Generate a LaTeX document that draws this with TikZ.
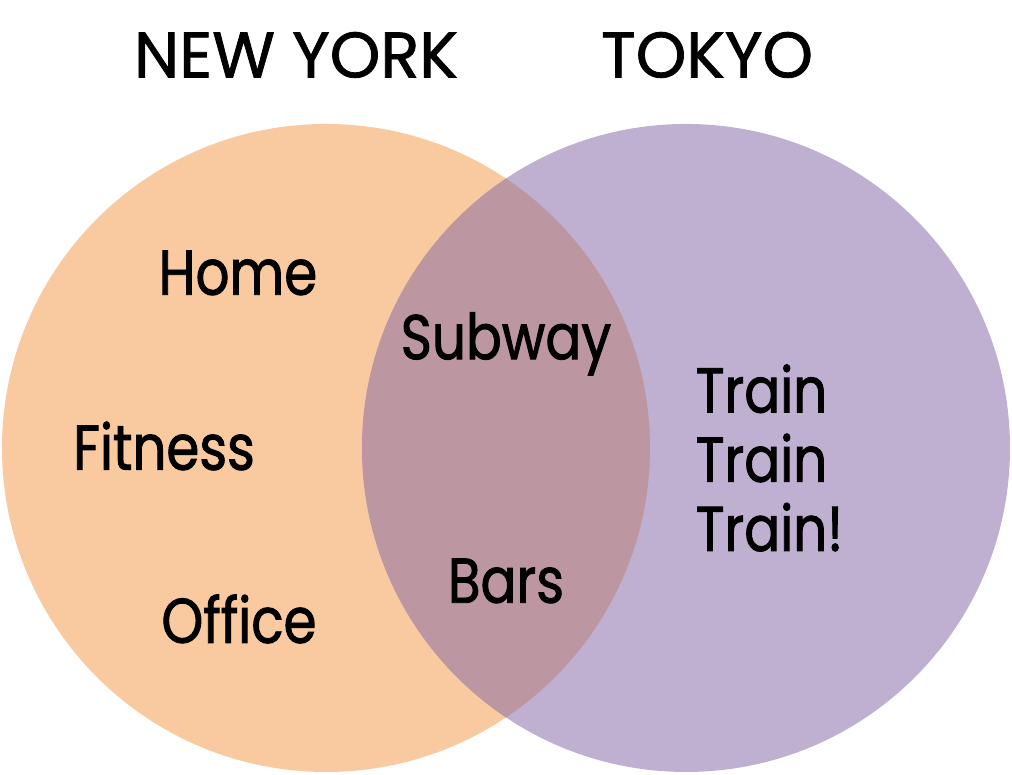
\documentclass[tikz,border=0pt]{standalone}
\usepackage{fontspec}
\setmainfont{Poppins}
\newfontfamily\cityfont[FakeBold=1.2]{Poppins}
\newfontfamily\wordfont[FakeBold=1.4,FakeStretch=0.84]{Poppins}
\usepackage{tikz}
\usetikzlibrary{positioning}

\definecolor{nyorange}{HTML}{F9C9A0}
\definecolor{tkpurple}{HTML}{BFB0D1}
\definecolor{bothmauve}{HTML}{BC96A1}

\begin{document}
\begin{tikzpicture}[
    word/.style={inner sep=0pt, font=\wordfont\fontsize{18}{22}\selectfont},
    city/.style={inner sep=0pt, font=\cityfont\fontsize{18.3}{22}\selectfont}
]
    \useasboundingbox (0,0) rectangle (10.12,7.75);

    % the two sets
    \fill[nyorange] (3.26,3.27) circle (3.24);
    \fill[tkpurple] (6.86,3.27) circle (3.24);
    \begin{scope}
        \clip (3.26,3.27) circle (3.24);
        \fill[bothmauve] (6.86,3.27) circle (3.24);
    \end{scope}

    % titles
    \node[city] (newyork) at (2.96,7.20) {NEW YORK};
    \node[city] (tokyo) at (7.07,7.20) {TOKYO};

    % New York only
    \node[word] (home) at (2.38,5.02) {Home};
    \node[word] (fitness) at (1.64,3.29) {Fitness};
    \node[word] (office) at (2.39,1.56) {Office};

    % both
    \node[word] (subway) at (5.06,4.31) {Subway};
    \node[word] (bars) at (5.06,1.94) {Bars};

    % Tokyo only
    \node[word, align=left, anchor=west, font=\wordfont\fontsize{18}{19.7}\selectfont] (train) at (6.95,3.17) {Train\\Train\\Train!};
\end{tikzpicture}
\end{document}
